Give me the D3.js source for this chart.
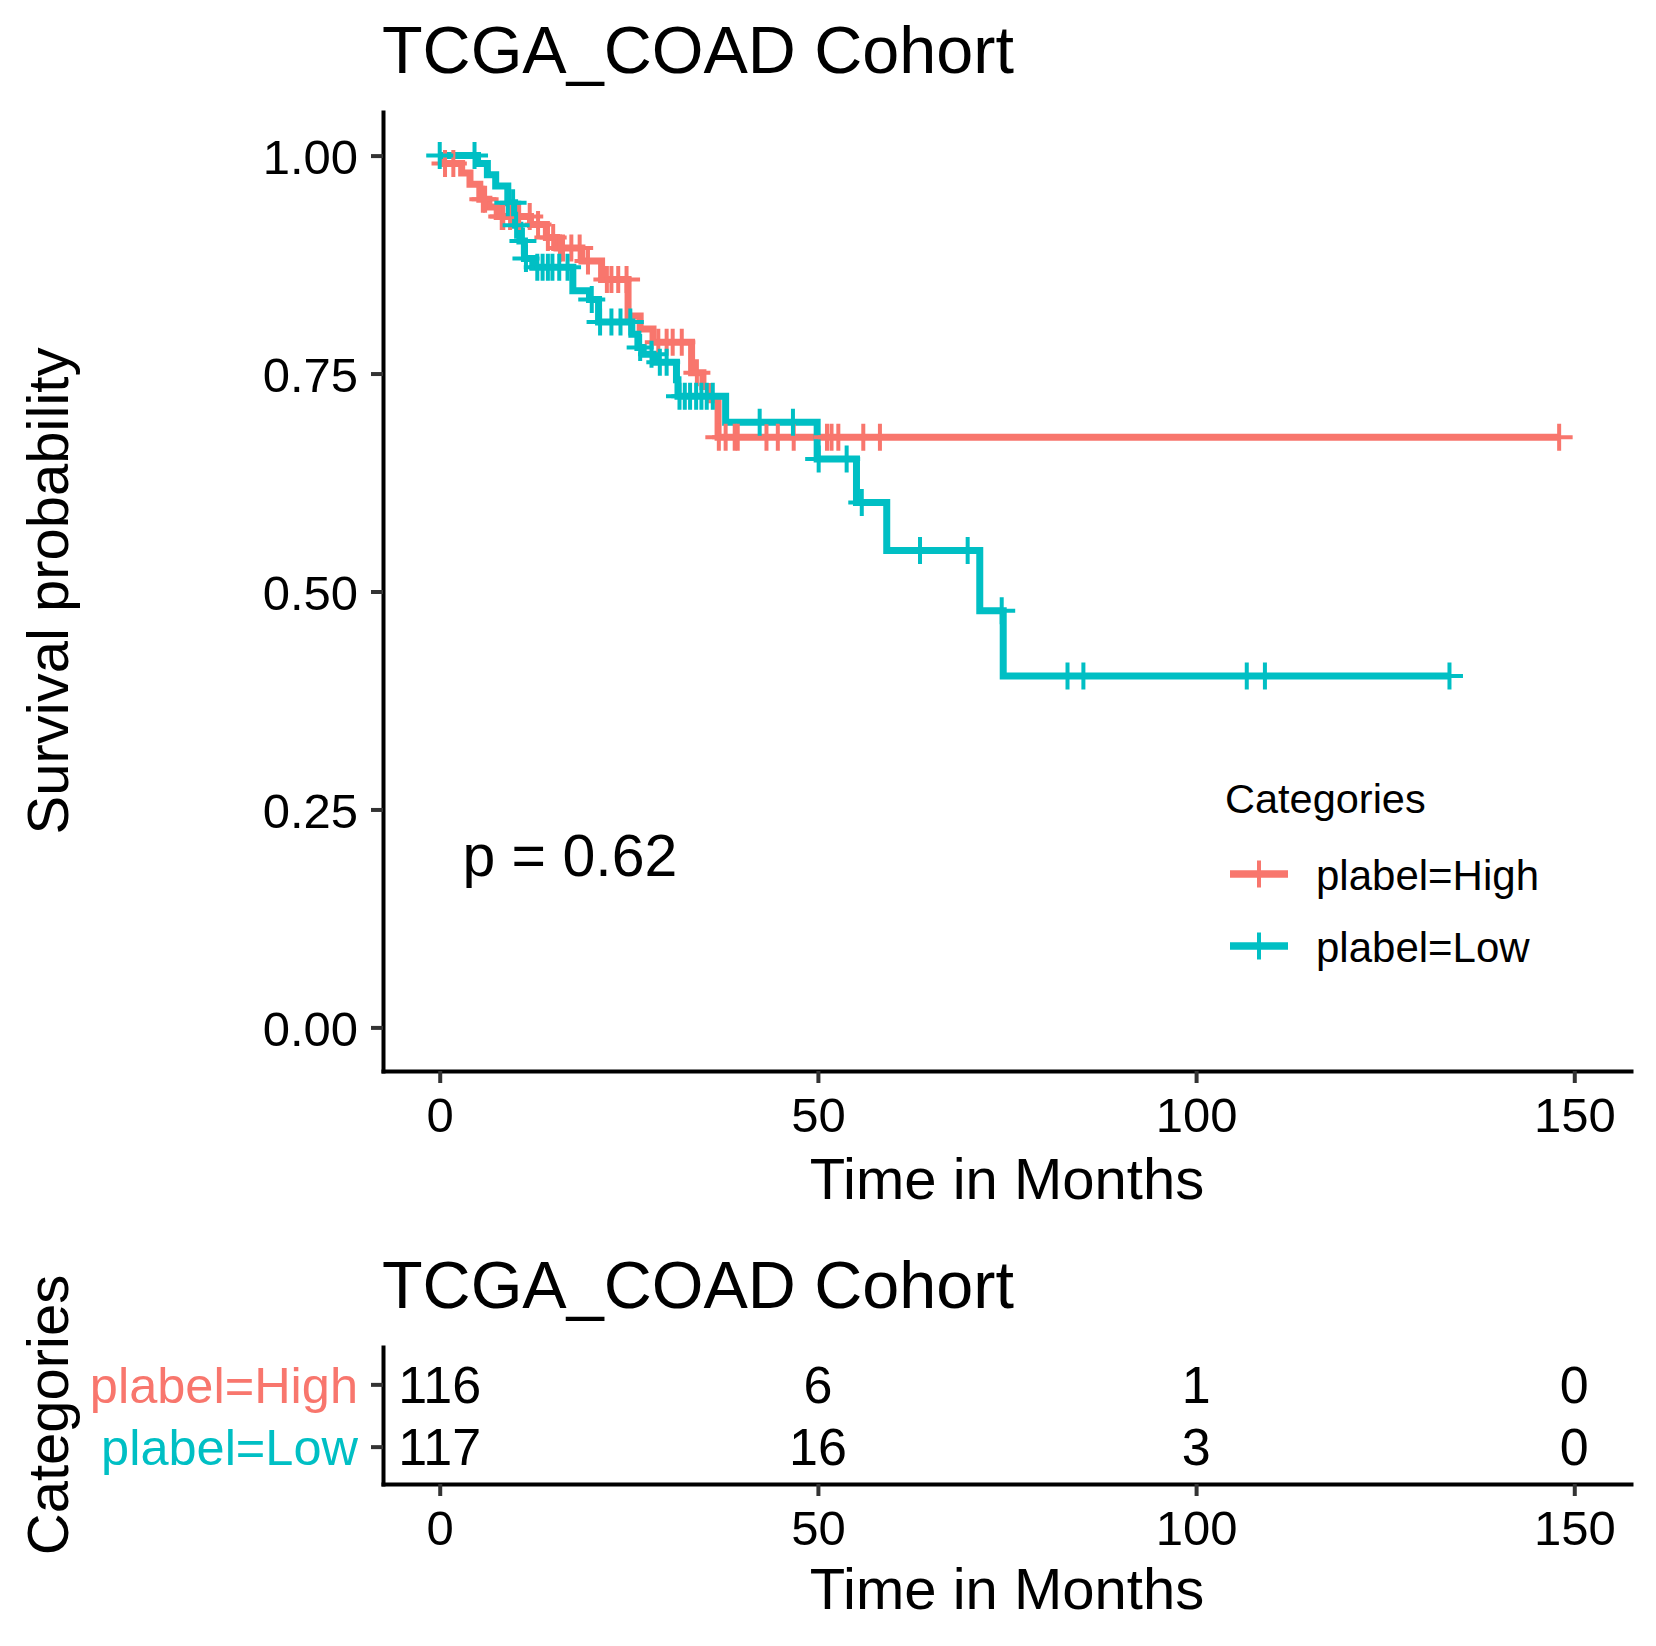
<!DOCTYPE html>
<html>
<head>
<meta charset="utf-8">
<style>
  body { margin: 0; background: #fff; }
  text { font-family: "Liberation Sans", Arial, sans-serif; }
  .axis path.domain { stroke: #000; stroke-width: 4px; }
  .axis .tick line { stroke: #333; stroke-width: 4px; }
  .axis .tick text { fill: #000; font-size: 49px; font-family: "Liberation Sans", Arial, sans-serif; }
</style>
<script src="https://d3js.org/d3.v7.min.js"></script>
</head>
<body>
<script>

// ---- data ----
var highTime = [0, 0.4, 2.9, 4.0, 5.3, 6.5, 7.6, 12.0, 14.1, 15.5, 18.8, 21.4, 24.9, 26.5, 28.2, 33.3, 34.8, 35.8, 36.8, 148];
var highSurv = [1.000, 0.991, 0.980, 0.967, 0.950, 0.941, 0.930, 0.921, 0.906, 0.894, 0.879, 0.858, 0.816, 0.801, 0.786, 0.751, 0.735, 0.720, 0.677, 0.677];
var highCensor = [0.7, 1.8, 5.7, 6.0, 8.2, 8.4, 9.3, 10.5, 11.9, 13.0, 14.3, 15.0, 15.9, 16.3, 17.4, 18.5, 19.6, 22.1, 22.7,
                  23.6, 24.7, 28.9, 30.0, 30.8, 32.0, 34.0, 36.9, 37.8, 39.0, 39.4, 43.2, 44.7, 46.8, 51.2, 51.8, 52.7,
                  56.0, 58.2, 148];

var lowTime = [0, 5.0, 6.3, 7.4, 9.0, 9.9, 10.6, 11.2, 12.3, 17.6, 19.8, 21.0, 25.4, 26.2, 26.9, 28.4, 31.3, 31.5,
               37.8, 49.9, 55.1, 59.1, 71.4, 74.5, 133.5];
var lowSurv = [1.000, 0.991, 0.978, 0.965, 0.946, 0.920, 0.902, 0.882, 0.872, 0.845, 0.835, 0.809, 0.795, 0.780,
               0.772, 0.763, 0.743, 0.724, 0.694, 0.652, 0.602, 0.547, 0.478, 0.403, 0.403];
var lowCensor = [0, 4.6, 9.0, 9.7, 10.1, 11.0, 11.4, 12.9, 13.6, 14.3, 14.9, 15.8, 16.9, 20.1, 21.2, 22.7, 23.9, 25.2,
                 26.5, 28.0, 29.1, 30.0, 31.7, 32.4, 33.1, 33.9, 34.6, 35.3, 36.1, 42.3, 46.7, 50.1, 53.8, 55.8,
                 63.5, 69.8, 74.3, 83.0, 85.1, 106.7, 109.1, 133.5];

var groups = ["plabel=High", "plabel=Low"];
var colors = ["#F8766D", "#00BFC4"];
var riskTimes = [0, 50, 100, 150];
var riskHigh = [116, 6, 1, 0];
var riskLow = [117, 16, 3, 0];
var yTicks = [0, 0.25, 0.5, 0.75, 1];
var xTicks = [0, 50, 100, 150];
var pText = "p = 0.62";
var title = "TCGA_COAD Cohort";

// ---- layout ----
var width = 1656, height = 1646;
var svg = d3.select("body").append("svg")
    .attr("width", width)
    .attr("height", height);

var x = d3.scaleLinear().domain([-7.5, 157.5]).range([383, 1631]);
var y = d3.scaleLinear().domain([-0.05, 1.05]).range([1071, 112]);

// survival value at time t from a step list
var stepAt = function(times, surv, t) {
    var i = d3.bisectRight(times, t) - 1;
    return surv[Math.max(0, i)];
}

// top panel title
svg.append("text").attr("x", 382).attr("y", 73)
    .style("font-size", "66.5px").text(title);

// axes
svg.append("g").attr("class", "axis")
    .attr("transform", "translate(0,1071)")
    .call(d3.axisBottom(x).tickValues(xTicks).tickSize(12).tickSizeOuter(0).tickPadding(14))
    .selectAll("text").attr("dy", "0.71em");

svg.append("g").attr("class", "axis")
    .attr("transform", "translate(383,0)")
    .call(d3.axisLeft(y).tickValues(yTicks).tickFormat(d3.format(".2f")).tickSize(12).tickSizeOuter(0).tickPadding(13))
    .selectAll("text").attr("dy", "0.36em");

svg.selectAll(".axis path.domain").attr("stroke-linecap", "square");

svg.append("text").attr("x", 1007).attr("y", 1199).attr("text-anchor", "middle")
    .style("font-size", "58px").text("Time in Months");
svg.append("text").attr("transform", "translate(68,591) rotate(-90)").attr("text-anchor", "middle")
    .style("font-size", "58px").text("Survival probability");

// curves
var line = d3.line()
    .x(function(d) { return x(d[0]); })
    .y(function(d) { return y(d[1]); })
    .curve(d3.curveStepAfter);

var series = [
  { time: highTime, surv: highSurv, cens: highCensor, color: colors[0] },
  { time: lowTime, surv: lowSurv, cens: lowCensor, color: colors[1] }
];

series.forEach(function(s) {
    svg.append("path")
      .datum(d3.zip(s.time, s.surv))
      .attr("d", line)
      .attr("fill", "none")
      .attr("stroke", s.color)
      .attr("stroke-width", 7)
      .attr("stroke-linejoin", "miter");
});

var cross = "M-13.5,0H13.5M0,-13.5V13.5";
series.forEach(function(s) {
    svg.append("g").selectAll("path")
      .data(s.cens)
      .enter().append("path")
      .attr("d", cross)
      .attr("transform", function(t) { return "translate(" + x(t) + "," + y(stepAt(s.time, s.surv, t)) + ")"; })
      .attr("stroke", s.color)
      .attr("stroke-width", 4)
      .attr("fill", "none");
});

// p value
svg.append("text").attr("x", x(3)).attr("y", y(0.174))
    .style("font-size", "59px").text(pText);

// legend
var legend = svg.append("g");
legend.append("text").attr("x", 1225).attr("y", 813).style("font-size", "41.5px").text("Categories");
groups.forEach(function(g, i) {
    var ly = 874 + i * 72;
    legend.append("line").attr("x1", 1230).attr("x2", 1288).attr("y1", ly).attr("y2", ly)
        .attr("stroke", colors[i]).attr("stroke-width", 7.5);
    legend.append("path").attr("d", cross).attr("transform", "translate(1259," + ly + ")")
        .attr("stroke", colors[i]).attr("stroke-width", 4);
    legend.append("text").attr("x", 1316).attr("y", ly + 16).style("font-size", "42px").text(g);
});

// ---- risk table ----
svg.append("text").attr("x", 382).attr("y", 1308)
    .style("font-size", "66.5px").text(title);

var yb = d3.scalePoint().domain(groups).range([1347, 1484]).padding(0.6);

svg.append("g").attr("class", "axis")
    .attr("transform", "translate(0,1484)")
    .call(d3.axisBottom(x).tickValues(xTicks).tickSize(12).tickSizeOuter(0).tickPadding(14))
    .selectAll("text").attr("dy", "0.71em");

var yAxB = svg.append("g").attr("class", "axis")
    .attr("transform", "translate(383,0)")
    .call(d3.axisLeft(yb).tickSize(12).tickSizeOuter(0).tickPadding(13));
yAxB.selectAll("text").attr("dy", "0.36em")
    .style("font-size", "50.5px")
    .style("fill", function(d, i) { return colors[groups.indexOf(d)]; });

svg.selectAll(".axis path.domain").attr("stroke-linecap", "square");

[riskHigh, riskLow].forEach(function(vals, gi) {
    svg.append("g").selectAll("text")
      .data(vals)
      .enter().append("text")
      .attr("x", function(d, i) { return x(riskTimes[i]); })
      .attr("y", yb(groups[gi]))
      .attr("dy", "0.36em")
      .attr("text-anchor", "middle")
      .style("font-size", "52px")
      .text(function(d) { return d; });
});

svg.append("text").attr("x", 1007).attr("y", 1609).attr("text-anchor", "middle")
    .style("font-size", "58px").text("Time in Months");
svg.append("text").attr("transform", "translate(68,1415) rotate(-90)").attr("text-anchor", "middle")
    .style("font-size", "58px").text("Categories");

</script>
</body>
</html>
